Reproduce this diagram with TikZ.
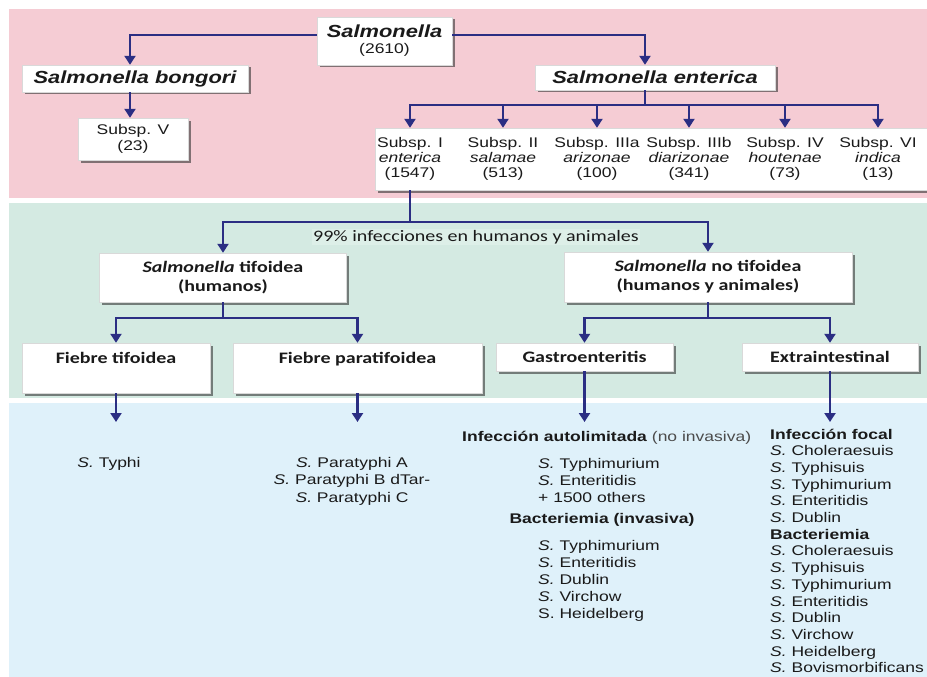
\documentclass[tikz,border=0pt]{standalone}
\usepackage{fontspec}
\setmainfont{Liberation Sans}[FakeStretch=1.25]
\newfontfamily\calfont{Carlito}[FakeStretch=1.25]
\usetikzlibrary{arrows.meta,shadows}
\definecolor{pinkbg}{HTML}{F5CCD4}
\definecolor{greenbg}{HTML}{D4EAE2}
\definecolor{labelbg}{HTML}{DDEFE8}
\definecolor{bluebg}{HTML}{DFF1FA}
\definecolor{navy}{HTML}{2B2E83}
\definecolor{ink}{HTML}{1A1A1A}
\tikzset{
  box/.style={fill=white, draw=black!15, line width=0.4pt, inner sep=0pt, align=center, text=ink,
    drop shadow={shadow xshift=2.5pt, shadow yshift=-2.5pt, fill=black!80, opacity=0.6}},
  conn/.style={draw=navy, line width=2.2pt},
  arr/.style={conn, -{Triangle[width=11pt,length=9pt]}},
  txt/.style={inner sep=0pt, text=ink, font=\fontsize{14}{17}\selectfont},
  hd/.style={font=\fontsize{17.5}{20}\selectfont\bfseries\itshape},
  subtxt/.style={inner sep=0pt, align=center, text=ink, font=\fontsize{14}{15.2}\selectfont, minimum height=62pt},
  cal/.style={font=\calfont\fontsize{16}{19}\selectfont\bfseries},
}
\begin{document}
\begin{tikzpicture}[x=1pt,y=-1pt]
\useasboundingbox (0,0) rectangle (927,677);
% background bands
\fill[pinkbg] (9,9) rectangle (927,198);
\fill[greenbg] (9,203) rectangle (927,398);
\fill[bluebg] (9,403) rectangle (927,677);

% top level
\node[box, minimum width=135pt, minimum height=48pt, font=\fontsize{14}{16}\selectfont] (root) at (384.5,41)
  {{\fontsize{17.5}{16}\selectfont\bfseries\itshape Salmonella}\\(2610)};
\node[box, hd, minimum width=226pt, minimum height=27pt] (bongori) at (135,78.5) {Salmonella bongori};
\node[box, hd, minimum width=240pt, minimum height=25pt] (enterica) at (655,77.5) {Salmonella enterica};
\node[box, font=\fontsize{14}{15.5}\selectfont, minimum width=110pt, minimum height=42pt] (subV) at (133,139) {Subsp. V\\(23)};

% subspecies band
\node[box, minimum width=552pt, minimum height=62pt] (band) at (651,159) {};
\node[subtxt] (sI) at (410,159) {Subsp. I\\\textit{enterica}\\(1547)};
\node[subtxt] (sII) at (503,159) {Subsp. II\\\textit{salamae}\\(513)};
\node[subtxt] (sIIIa) at (597,159) {Subsp. IIIa\\\textit{arizonae}\\(100)};
\node[subtxt] (sIIIb) at (689,159) {Subsp. IIIb\\\textit{diarizonae}\\(341)};
\node[subtxt] (sIV) at (785,159) {Subsp. IV\\\textit{houtenae}\\(73)};
\node[subtxt] (sVI) at (878,159) {Subsp. VI\\\textit{indica}\\(13)};

\draw[arr] ([yshift=6pt]root.west) -| ([xshift=-5pt]bongori.north);
\draw[arr] ([yshift=6pt]root.east) -| ([xshift=-10pt]enterica.north);
\draw[arr] ([xshift=-5pt]bongori.south) -- ([xshift=-3pt]subV.north);
\coordinate (ej) at (645,105);
\draw[conn] ([xshift=-10pt]enterica.south) -- (ej);
\foreach \n in {sI,sII,sIIIa,sIIIb,sIV,sVI} \draw[arr] (ej) -| (\n.north);

% middle level
\node[box, cal, minimum width=247pt, minimum height=49pt] (tif) at (223,277.5) {\textit{Salmonella} tifoidea\\(humanos)};
\node[box, cal, minimum width=288pt, minimum height=50pt] (notif) at (708,277) {\textit{Salmonella} no tifoidea\\(humanos y animales)};
\coordinate (pj) at (410,222);
\draw[conn] (sI.south) -- (pj);
\draw[arr] (pj) -| (tif.north);
\draw[arr] (pj) -| (notif.north);
\node[inner sep=1.5pt, fill=labelbg, text=ink, font=\calfont\fontsize{16}{18}\selectfont] (lbl) at (476,237) {99\% infecciones en humanos y animales};

\node[box, cal, minimum width=188pt, minimum height=50pt, text height=11pt, text depth=21pt] (ftif) at (116,368) {Fiebre tifoidea};
\node[box, cal, minimum width=249pt, minimum height=50pt, text height=11pt, text depth=21pt] (fpara) at (357.5,368) {Fiebre paratifoidea};
\node[box, cal, minimum width=177pt, minimum height=28pt] (gastro) at (584.5,357) {Gastroenteritis};
\node[box, cal, minimum width=176pt, minimum height=28pt] (extra) at (830,357) {Extraintestinal};
\coordinate (tj) at (223,318);
\draw[conn] (tif.south) -- (tj);
\draw[arr] (tj) -| (ftif.north);
\draw[arr] (tj) -| (fpara.north);
\coordinate (nj) at (708,318);
\draw[conn] (notif.south) -- (nj);
\draw[arr] (nj) -| (gastro.north);
\draw[arr] (nj) -| (extra.north);

% down arrows
\coordinate (d1) at (116,422);
\coordinate (d2) at (357.5,422);
\coordinate (d3) at (584.5,422);
\coordinate (d4) at (830,422);
\draw[arr] (ftif.south) -- (d1);
\draw[arr] (fpara.south) -- (d2);
\draw[arr] (gastro.south) -- (d3);
\draw[arr] (extra.south) -- (d4);

% bottom texts
\node[txt, anchor=base] (typhi) at (109,467) {\textit{S.} Typhi};
\node[txt, anchor=base] (pA) at (352,467) {\textit{S.} Paratyphi A};
\node[txt, anchor=base] (pB) at (352,484) {\textit{S.} Paratyphi B dTar-};
\node[txt, anchor=base] (pC) at (352,502) {\textit{S.} Paratyphi C};

\node[txt, anchor=base west] (gh1) at (462,441) {\textbf{Infección autolimitada} {\color{black!70}(no invasiva)}};
\node[txt, anchor=base west] (g1) at (538,468) {\textit{S.} Typhimurium};
\node[txt, anchor=base west] (g2) at (538,485) {\textit{S.} Enteritidis};
\node[txt, anchor=base west] (g3) at (538,502) {+ 1500 others};
\node[txt, anchor=base] (gh2) at (602,523) {\textbf{Bacteriemia (invasiva)}};
\node[txt, anchor=base west] (g4) at (538,550) {\textit{S.} Typhimurium};
\node[txt, anchor=base west] (g5) at (538,567) {\textit{S.} Enteritidis};
\node[txt, anchor=base west] (g6) at (538,584) {\textit{S.} Dublin};
\node[txt, anchor=base west] (g7) at (538,601) {\textit{S.} Virchow};
\node[txt, anchor=base west] (g8) at (538,618) {S. Heidelberg};

\foreach [count=\i from 0] \t in {\textbf{Infección focal}, \textit{S.} Choleraesuis, \textit{S.} Typhisuis, \textit{S.} Typhimurium, \textit{S.} Enteritidis, \textit{S.} Dublin, \textbf{Bacteriemia}, \textit{S.} Choleraesuis, \textit{S.} Typhisuis, \textit{S.} Typhimurium, \textit{S.} Enteritidis, \textit{S.} Dublin, \textit{S.} Virchow, \textit{S.} Heidelberg, \textit{S.} Bovismorbificans}
  \node[txt, anchor=base west] (ex\i) at (770,{439+16.7*\i}) {\t};
\end{tikzpicture}
\end{document}
